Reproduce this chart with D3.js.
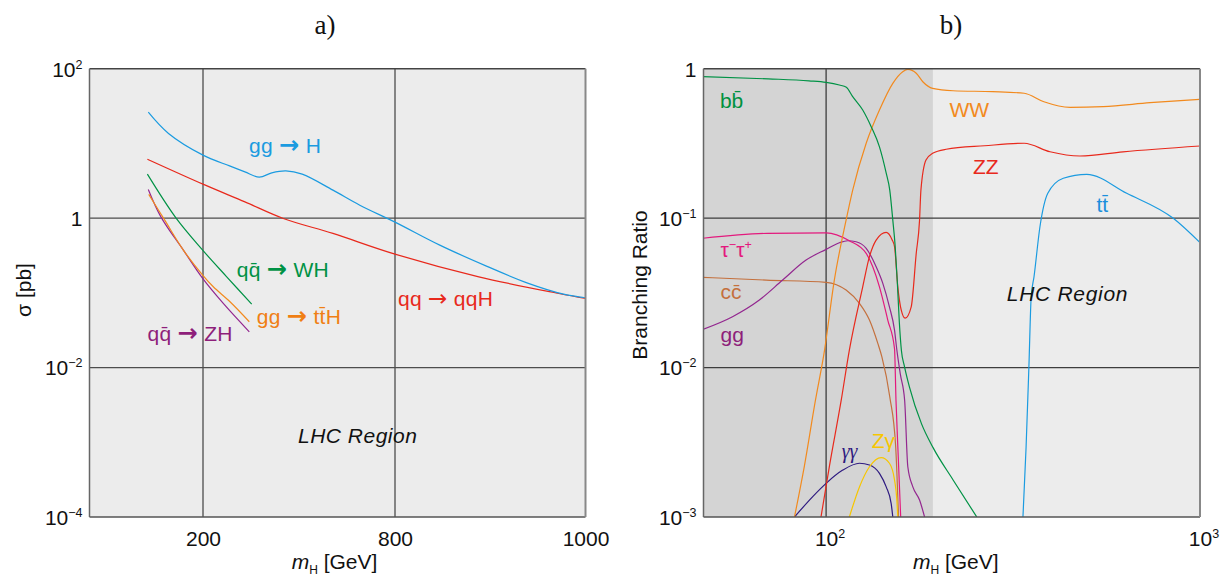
<!DOCTYPE html>
<html><head><meta charset="utf-8">
<script src="https://cdn.jsdelivr.net/npm/d3@7"></script>
<style>
body{margin:0;background:#fff}
svg{display:block}
text{font-family:"Liberation Sans",Arial,sans-serif}
</style>
</head><body>
<svg id="c" width="1229" height="576"></svg>
<script>
// ================= DATA =================
// Panel a) tick values / labels
const aXTicks = [200, 800, 1000];
const aXTickLabels = ["200", "800", "1000"];
const aYTicks = [1e-4, 1e-2, 1, 1e2];
const aYTickLabels = [["10","−4"], ["10","−2"], ["1",""], ["10","2"]];
// Panel a) cross sections [m_H, sigma(pb)]
const sig_ggH  = [[151.8,26.2],[169.6,13.6],[200,6.97],[283,5.0],[331,4.16],[376,3.54],[415,4.04],[459,4.29],[510,3.88],[606,2.37],[690,1.49],[800,0.884],[847,0.435],[896,0.228],[940,0.134],[977,0.096],[1000,0.086]];
const sig_qqH  = [[151,6.15],[200,2.85],[331,1.65],[451,0.99],[606,0.624],[800,0.33],[888,0.164],[972,0.098],[1000,0.084]];
const sig_WH   = [[151,3.88],[176.3,1.0],[199.7,0.373],[274.1,0.164],[352.2,0.0707]];
const sig_ttH  = [[152.2,2.08],[166.3,0.94],[182.7,0.373],[199.7,0.173],[232.2,0.1205],[284.4,0.0759],[344.7,0.041]];
const sig_ZH   = [[151.8,2.42],[162.9,1.04],[182.7,0.373],[199.7,0.156],[263.4,0.0722],[344.7,0.0301]];

// Panel b) tick values / labels
const bXTicks = [100, 1000];
const bXTickLabels = [["10","2"], ["10","3"]];
const bYTicks = [1e-3, 1e-2, 1e-1, 1];
const bYTickLabels = [["10","−3"], ["10","−2"], ["10","−1"], ["1",""]];
const bDomainX = [47, 1000];
const bShadedRange = [47, 193];
// Panel b) branching ratios [m_H, BR]
const br_bb = [[46.8,0.884],[70,0.855],[90,0.83],[100,0.811],[108.5,0.778],[113.3,0.751],[117.8,0.65],[125.3,0.529],[132,0.409],[138.9,0.30],[144.8,0.20],[148,0.154],[150.8,0.097],[153,0.065],[155,0.038],[157,0.02],[159,0.013],[162,0.0102],[167.1,0.0074],[180,0.0042],[193.4,0.0029],[218.6,0.00177],[252.9,0.001]];
const br_WW = [[82.3,0.001],[87.5,0.0022],[93.6,0.006],[99,0.013],[105.2,0.0385],[113.1,0.097],[117.8,0.154],[128,0.317],[138.9,0.529],[150.8,0.798],[160.3,0.955],[165.4,0.99],[174.2,0.932],[181.4,0.818],[192.7,0.739],[218.6,0.712],[278.7,0.702],[338.6,0.685],[382.4,0.601],[449.1,0.5515],[551,0.557],[735,0.592],[1000,0.624]];
const br_ZZ = [[96.9,0.001],[102.1,0.0022],[109.7,0.006],[115.4,0.0131],[125.3,0.0347],[130.6,0.0552],[136.1,0.0713],[144.8,0.0803],[150,0.072],[152.4,0.0644],[155.5,0.0347],[158.8,0.0243],[162.7,0.0214],[168.9,0.0255],[174.2,0.0581],[177.8,0.097],[179.3,0.154],[185,0.245],[192.7,0.2715],[209.5,0.289],[265.4,0.305],[338.6,0.317],[397,0.278],[477.5,0.2604],[622.2,0.278],[1000,0.304]];
const br_tt = [[336.1,0.001],[342.7,0.00295],[348.6,0.01],[353.6,0.0298],[359.8,0.0405],[373.2,0.0876],[391.7,0.1466],[430.9,0.1848],[497.7,0.1965],[636.8,0.1466],[848.3,0.0997],[1000,0.0685]];
const br_tautau = [[46.8,0.0733],[69.6,0.0791],[100,0.0798],[115.4,0.0706],[128,0.0581],[138.9,0.0347],[146.2,0.0208],[152.4,0.0134],[153.8,0.006],[155.5,0.003],[158.3,0.001]];
const br_gg = [[46.8,0.018],[56.2,0.0219],[66.3,0.0283],[76.5,0.0385],[88.4,0.0524],[100,0.0618],[108.5,0.0684],[114.2,0.0706],[120.3,0.0695],[128,0.0628],[136.1,0.0473],[141.8,0.0366],[147.7,0.0255],[152.4,0.0178],[154.6,0.0131],[158,0.009],[162.2,0.00605],[165.4,0.00217],[170.6,0.00159],[177.8,0.0013],[183.4,0.001]];
const br_cc = [[46.8,0.0402],[69.1,0.0385],[100,0.0372],[113.1,0.033],[122.8,0.0269],[130.6,0.0208],[137.5,0.01452],[141,0.0118],[148,0.00638],[153.5,0.00295],[156.2,0.001]];
const br_gamgam = [[82.3,0.001],[92.1,0.00137],[100,0.00168],[110.8,0.00206],[122.8,0.00229],[130.6,0.00223],[138.9,0.00196],[144.8,0.00159],[149.3,0.00123],[150.8,0.001]];
const br_Zgam = [[115.4,0.001],[122.8,0.00159],[130.6,0.00217],[140.4,0.0025],[147.7,0.00229],[152.4,0.00177],[154.6,0.0013],[155.5,0.001]];

// ================= DRAWING =================
const svg = d3.select("#c");
const FS = 21;
const SERIF = '"Liberation Serif","Times New Roman",serif';

// --- panel a) scales
const aL = 89.5, aR = 585.5, aT = 68.7, aB = 517;
const xA = d3.scaleLinear().domain([100, 200, 800, 1000]).range([aL, 203, 395, aR]);
const yA = d3.scaleLog().domain([1e-4, 1e2]).range([aB, aT]);
// --- panel b) scales
const bL = 703.5, bR = 1200, bT = 68.7, bB = 517;
const xB = d3.scaleLog().domain(bDomainX).range([bL, bR]);
const yB = d3.scaleLog().domain([1e-3, 1]).range([bB, bT]);

const defs = svg.append("defs");
defs.append("clipPath").attr("id","clipA").append("rect").attr("x",aL).attr("y",aT).attr("width",aR-aL).attr("height",aB-aT);
defs.append("clipPath").attr("id","clipB").append("rect").attr("x",bL).attr("y",bT).attr("width",bR-bL).attr("height",bB-bT);

// backgrounds
svg.append("rect").attr("x",aL).attr("y",aT).attr("width",aR-aL).attr("height",aB-aT).attr("fill","#ececec");
svg.append("rect").attr("x",bL).attr("y",bT).attr("width",bR-bL).attr("height",bB-bT).attr("fill","#ececec");
svg.append("rect").attr("x",xB(bShadedRange[0])).attr("y",bT)
  .attr("width",xB(bShadedRange[1])-xB(bShadedRange[0])).attr("height",bB-bT).attr("fill","#d4d4d4");

// grid lines
const gridA = svg.append("g").attr("stroke","#4d4d4d").attr("stroke-width",1.3);
[200,800].forEach(v=>gridA.append("line").attr("x1",xA(v)).attr("x2",xA(v)).attr("y1",aT).attr("y2",aB));
[1e-2,1].forEach(v=>gridA.append("line").attr("x1",aL).attr("x2",aR).attr("y1",yA(v)).attr("y2",yA(v)));
const gridB = svg.append("g").attr("stroke","#3d3d3d").attr("stroke-width",1.3);
[100].forEach(v=>gridB.append("line").attr("x1",xB(v)).attr("x2",xB(v)).attr("y1",bT).attr("y2",bB));
[1e-2,1e-1].forEach(v=>gridB.append("line").attr("x1",bL).attr("x2",bR).attr("y1",yB(v)).attr("y2",yB(v)));

// frames
function frame(l,t,r,b){
  const g = svg.append("g").attr("fill","none");
  g.append("line").attr("x1",l).attr("x2",r).attr("y1",t).attr("y2",t).attr("stroke","#444").attr("stroke-width",1.5);
  g.append("line").attr("x1",l).attr("x2",r).attr("y1",b).attr("y2",b).attr("stroke","#555").attr("stroke-width",1.5);
  g.append("line").attr("x1",l).attr("x2",l).attr("y1",t).attr("y2",b).attr("stroke","#666").attr("stroke-width",1.5);
  g.append("line").attr("x1",r).attr("x2",r).attr("y1",t).attr("y2",b).attr("stroke","#888").attr("stroke-width",2);
}

// curves
function drawCurves(data, xs, ys, clip, curve){
  const line = d3.line().x(d=>xs(d[0])).y(d=>ys(d[1])).curve(curve);
  const g = svg.append("g").attr("clip-path",`url(#${clip})`).attr("fill","none").attr("stroke-width",1.2);
  data.forEach(s=>g.append("path").attr("d",line(s.v)).attr("stroke",s.c));
}
drawCurves([
  {v:sig_qqH, c:"#e8291c"},
  {v:sig_ggH, c:"#1b9be0"},
  {v:sig_WH,  c:"#009245"},
  {v:sig_ZH,  c:"#93278f"},
  {v:sig_ttH, c:"#f28a1e"}
], xA, yA, "clipA", d3.curveCatmullRom.alpha(0.5));
drawCurves([
  {v:br_cc, c:"#c4703d"},
  {v:br_gg, c:"#93278f"},
  {v:br_tautau, c:"#e3197d"},
  {v:br_gamgam, c:"#2e1a80"},
  {v:br_Zgam, c:"#f7c600"},
  {v:br_ZZ, c:"#e8291c"},
  {v:br_WW, c:"#f28a1e"},
  {v:br_bb, c:"#009245"},
  {v:br_tt, c:"#1b9be0"}
], xB, yB, "clipB", d3.curveMonotoneX);

frame(aL,aT,aR,aB);
frame(bL,bT,bR,bB);

// rich text helper: parts = [text, kind]; kind: "", "sup", "sub", "it", "arrow", "arrowThin", "serif"
function rich(sel, parts, fs){
  let shift = 0;
  parts.forEach(p=>{
    const t = sel.append("tspan").text(p[0]);
    let target = 0;
    if(p[1]==="sup"){ t.attr("font-size", fs*0.6); target = -fs*0.38; }
    else if(p[1]==="sub"){ t.attr("font-size", fs*0.6); target = fs*0.25; }
    else if(p[1]==="it"){ t.attr("font-style","italic"); }
    else if(p[1]==="serif"){ t.style("font-family",SERIF).attr("font-style","italic"); }
    else if(p[1]==="arrow"){ t.style("font-family",'"DejaVu Sans",sans-serif').attr("font-weight","bold").attr("font-size",fs*1.15); }
    else if(p[1]==="arrowThin"){ t.style("font-family",'"DejaVu Sans",sans-serif').attr("font-size",fs*1.1); }
    if(target !== shift){ t.attr("dy", target - shift); shift = target; }
  });
}

// y axes (d3 axis, labels rebuilt with superscripts)
function yAxis(scale, ticks, labels, x){
  const g = svg.append("g").attr("transform",`translate(${x},0)`)
    .call(d3.axisLeft(scale).tickValues(ticks).tickSize(0).tickPadding(7).tickFormat(()=>""));
  g.select(".domain").remove();
  g.attr("font-size",FS);
  g.selectAll(".tick text").attr("fill","#111").attr("dy","0.35em").each(function(d,i){
    const t = d3.select(this);
    const lab = labels[i];
    t.append("tspan").text(lab[0]);
    if(lab[1]) t.append("tspan").attr("font-size",12.5).attr("dy",-8).text(lab[1]);
  });
}
yAxis(yA, aYTicks, aYTickLabels, aL);
yAxis(yB, bYTicks, bYTickLabels, bL);

// x axes
function xAxis(scale, ticks, labels, y){
  const g = svg.append("g").attr("transform",`translate(0,${y})`)
    .call(d3.axisBottom(scale).tickValues(ticks).tickSize(0).tickPadding(14).tickFormat(()=>""));
  g.select(".domain").remove();
  g.attr("font-size",FS);
  g.selectAll(".tick text").attr("fill","#111").attr("dy","0.71em").each(function(d,i){
    const t = d3.select(this);
    const lab = labels[i];
    if(typeof lab === "string"){ t.text(lab); return; }
    t.append("tspan").text(lab[0]);
    const w = this.getComputedTextLength();
    t.attr("text-anchor","start").attr("x",-w/2);
    t.append("tspan").attr("font-size",12.5).attr("dy",-8).text(lab[1]);
  });
}
xAxis(xA, aXTicks, aXTickLabels, aB);
xAxis(xB, bXTicks, bXTickLabels, bB);

// axis titles
function xTitle(cx){
  const t = svg.append("text").attr("x",cx).attr("y",569).attr("text-anchor","middle").attr("font-size",FS).attr("fill","#111");
  t.append("tspan").attr("font-style","italic").text("m");
  t.append("tspan").attr("font-size",12).attr("dy",5).text("H");
  t.append("tspan").attr("dy",-5).text(" [GeV]");
}
xTitle((aL+aR)/2 - 3);
xTitle((bL+bR)/2 + 4);
svg.append("text").attr("transform","translate(31,290) rotate(-90)").attr("text-anchor","middle")
  .attr("font-size",FS).attr("fill","#111").text("σ [pb]");
svg.append("text").attr("transform","translate(647,285) rotate(-90)").attr("text-anchor","middle")
  .attr("font-size",FS).attr("fill","#111").text("Branching Ratio");

// panel titles
svg.append("text").attr("x",325).attr("y",34).attr("text-anchor","middle").style("font-family",SERIF)
  .attr("font-size",27).attr("fill","#111").text("a)");
svg.append("text").attr("x",951).attr("y",34).attr("text-anchor","middle").style("font-family",SERIF)
  .attr("font-size",27).attr("fill","#111").text("b)");

// annotations (anchored in data coordinates)
const annA = [
  {parts:[["gg ",""],["→","arrow"],[" H",""]], c:"#1b9be0", at:[343.75,7.47]},
  {parts:[["qq\u0304 ",""],["→","arrow"],[" WH",""]], c:"#009245", at:[305.3,0.164]},
  {parts:[["gg ",""],["→","arrow"],[" tt\u0304H",""]], c:"#f07f14", at:[367.8,0.0382]},
  {parts:[["qq\u0304 ",""],["→","arrow"],[" ZH",""]], c:"#8e1f7a", at:[151.1,0.0228]},
  {parts:[["qq ",""],["→","arrowThin"],[" qqH",""]], c:"#e8291c", at:[803.1,0.0671]},
  {parts:[["LHC Region","it"]], c:"#111", at:[496.9,0.00097], ls:0.5}
];
annA.forEach(a=>{
  const t = svg.append("text").attr("x",xA(a.at[0])).attr("y",yA(a.at[1])).attr("font-size",21)
    .attr("letter-spacing", a.ls || 0.3).attr("fill",a.c);
  rich(t, a.parts, 21);
});
const annB = [
  {parts:[["bb\u0304",""]], c:"#00913f", at:[52.0,0.548]},
  {parts:[["WW",""]], c:"#f28a1e", at:[213.8,0.477]},
  {parts:[["ZZ",""]], c:"#e8291c", at:[247.2,0.1973]},
  {parts:[["tt\u0304",""]], c:"#1b8fdc", at:[528.4,0.1104]},
  {parts:[["τ",""],["−","sup"],["τ",""],["+","sup"]], c:"#e3197d", at:[52.2,0.0552]},
  {parts:[["cc\u0304",""]], c:"#c4703d", at:[52.2,0.0288]},
  {parts:[["gg",""]], c:"#8e1f7a", at:[52.2,0.0149]},
  {parts:[["γγ","serif"]], c:"#2e1a80", at:[110.1,0.00248], fs:20},
  {parts:[["Zγ",""]], c:"#f7c600", at:[132.4,0.00288]},
  {parts:[["LHC Region","it"]], c:"#111", at:[304.2,0.028], ls:0.7}
];
annB.forEach(a=>{
  const fs = a.fs || 21;
  const t = svg.append("text").attr("x",xB(a.at[0])).attr("y",yB(a.at[1])).attr("font-size",fs)
    .attr("letter-spacing", a.ls || 0).attr("fill",a.c);
  rich(t, a.parts, fs);
});
</script>
</body></html>
